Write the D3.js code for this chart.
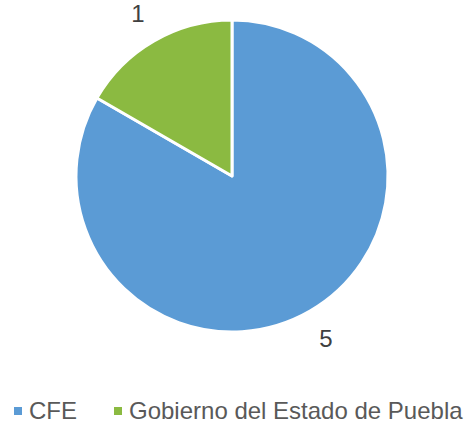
<!DOCTYPE html>
<html><head><meta charset="utf-8">
<script src="https://cdn.jsdelivr.net/npm/d3@7"></script>
<style>body{margin:0;background:#fff;} svg{display:block;}</style>
</head><body>
<svg id="c" width="464" height="425"></svg>
<script>
const categories = ["CFE", "Gobierno del Estado de Puebla"];
const values = [5, 1];
const colors = ["#5B9BD5", "#8BBA41"];

const svg = d3.select("#c");
const cx = 232, cy = 176, r = 156;
const font = "'Liberation Sans', Arial, sans-serif";
const pie = d3.pie().sort(null).value(d => d.v);
const data = pie(categories.map((c, i) => ({c, v: values[i], col: colors[i]})));
const arc = d3.arc().innerRadius(0).outerRadius(r);
const g = svg.append("g").attr("transform", `translate(${cx},${cy})`);
g.selectAll("path").data(data).join("path")
  .attr("d", arc).attr("fill", d => d.data.col)
  .attr("stroke", "#fff").attr("stroke-width", 3).attr("stroke-linejoin", "round");

const lr = r + 32;
g.selectAll("text").data(data).join("text")
  .attr("x", d => lr * Math.sin((d.startAngle + d.endAngle) / 2))
  .attr("y", d => -lr * Math.cos((d.startAngle + d.endAngle) / 2))
  .attr("text-anchor", "middle").attr("dominant-baseline", "central")
  .attr("font-family", font).attr("font-size", 24)
  .attr("fill", "#404040").text(d => d.data.v);

const leg = svg.append("g");
const xs = [14, 114];
categories.forEach((c, i) => {
  leg.append("rect").attr("x", xs[i]).attr("y", 407).attr("width", 8).attr("height", 8).attr("fill", colors[i]);
  leg.append("text").attr("x", xs[i] + 15).attr("y", 419)
    .attr("font-family", font).attr("font-size", 24)
    .attr("fill", "#595959").text(c);
});
</script>
</body></html>
